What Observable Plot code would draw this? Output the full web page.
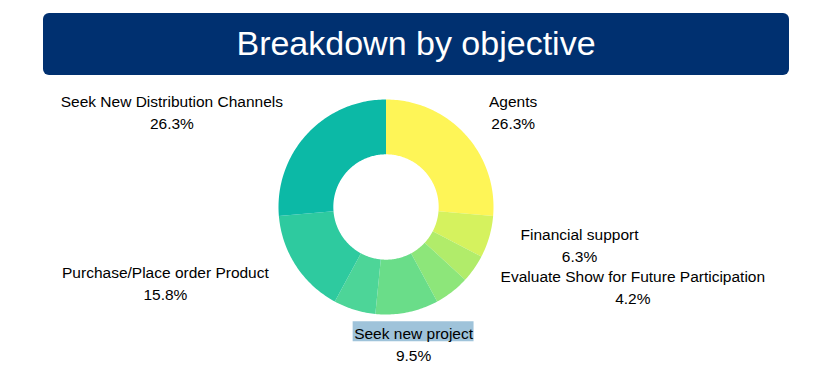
<!DOCTYPE html>
<html>
<head>
<meta charset="utf-8">
<script src="https://cdn.jsdelivr.net/npm/d3@7"></script>
<script src="https://cdn.jsdelivr.net/npm/@observablehq/plot@0.6"></script>
<style>
  html, body { margin: 0; padding: 0; background: #ffffff; }
  body { width: 821px; height: 375px; overflow: hidden; font-family: "Liberation Sans", Arial, sans-serif; }
  #title {
    margin: 13px 0 0 43px; width: 746px; height: 62px; box-sizing: border-box;
    background: #003070; border-radius: 6px; color: #ffffff;
    font-size: 34px; line-height: 60px; text-align: center;
  }
  #chart { margin-top: 5px; }
</style>
</head>
<body>
<div id="title">Breakdown by objective</div>
<div id="chart"></div>
<script>
// ---- data (clockwise from 12 o'clock) ----
const categories = [
  "Agents",
  "Financial support",
  "Evaluate Show for Future Participation",
  "(unlabelled slice 1)",
  "Seek new project",
  "(unlabelled slice 2)",
  "Purchase/Place order Product",
  "Seek New Distribution Channels"
];
const counts = [25, 6, 4, 5, 9, 6, 15, 25];
const labelShown = [true, true, true, false, true, false, true, true];
const colors = ["#fef557", "#d5f25e", "#b1ec6a", "#8de67a", "#6add89", "#4dd598", "#2eca9f", "#0cb9a6"];
const highlighted = "Seek new project";

// ---- layout ----
const W = 821, H = 295;
const unit = 107.5;            // px per data unit (outer radius = 1)
const cxPx = 385.5, cyPx = 126.5;
const inner = 0.49;
const fontSize = 15.5, lineH = 22 / 15.5;
const labelDy = 1.5;           // px, upward nudge of all labels

const total = d3.sum(counts);
let cum = 0;
const slices = categories.map((c, i) => {
  const a0 = cum / total * 2 * Math.PI;
  cum += counts[i];
  const a1 = cum / total * 2 * Math.PI;
  return {category: c, value: counts[i], a0, a1, shown: labelShown[i],
          pct: (counts[i] / total * 100).toFixed(1) + "%"};
});

// polygon points for each annular sector, in unit coordinates (y up)
const pts = [];
for (const s of slices) {
  const n = Math.max(2, Math.ceil((s.a1 - s.a0) / (Math.PI / 180)));
  for (let k = 0; k <= n; k++) {
    const a = s.a0 + (s.a1 - s.a0) * k / n;
    pts.push({category: s.category, x: Math.sin(a), y: Math.cos(a)});
  }
  for (let k = n; k >= 0; k--) {
    const a = s.a0 + (s.a1 - s.a0) * k / n;
    pts.push({category: s.category, x: inner * Math.sin(a), y: inner * Math.cos(a)});
  }
}

// label placement outside the ring
const ctx = document.createElement("canvas").getContext("2d");
ctx.font = `${fontSize}px "Liberation Sans"`;
const rLab = 140;
const labels = slices.filter(s => s.shown).map(s => {
  const a = (s.a0 + s.a1) / 2;
  const w = Math.max(ctx.measureText(s.category).width, ctx.measureText(s.pct).width);
  const sn = Math.sin(a), cs = Math.cos(a);
  const f = Math.sign(sn) * Math.min(1, Math.max(0, (Math.abs(sn) - 0.2) / 0.5));
  const px = rLab * sn + f * w / 2;
  const py = rLab * cs + labelDy;   // y up
  const nameW = ctx.measureText(s.category).width;
  return {category: s.category, text: s.category + "\n" + s.pct,
          x: px / unit, y: py / unit, nameW,
          nameY: (py + fontSize * lineH / 2) / unit};
});
const hl = labels.filter(d => d.category === highlighted).map(d => ({
  x1: d.x - (d.nameW / 2 + 1) / unit, x2: d.x + (d.nameW / 2 + 1) / unit,
  y1: d.nameY - 10 / unit, y2: d.nameY + 10 / unit
}));

const chart = Plot.plot({
  width: W, height: H,
  marginTop: 0, marginRight: 0, marginBottom: 0, marginLeft: 0,
  x: {domain: [-cxPx / unit, (W - cxPx) / unit], axis: null},
  y: {domain: [-(H - cyPx) / unit, cyPx / unit], axis: null},
  color: {domain: categories, range: colors},
  style: {fontFamily: "Liberation Sans, Arial, sans-serif", background: "white"},
  marks: [
    Plot.line(pts, {x: "x", y: "y", z: "category", fill: "category", stroke: "none", curve: "linear"}),
    Plot.rect(hl, {x1: "x1", x2: "x2", y1: "y1", y2: "y2", fill: "#9fc3da"}),
    Plot.text(labels, {x: "x", y: "y", text: "text", fontSize, lineHeight: lineH,
                       textAnchor: "middle", lineAnchor: "middle", fill: "#000000"})
  ]
});
document.getElementById("chart").appendChild(chart);
</script>
</body>
</html>
